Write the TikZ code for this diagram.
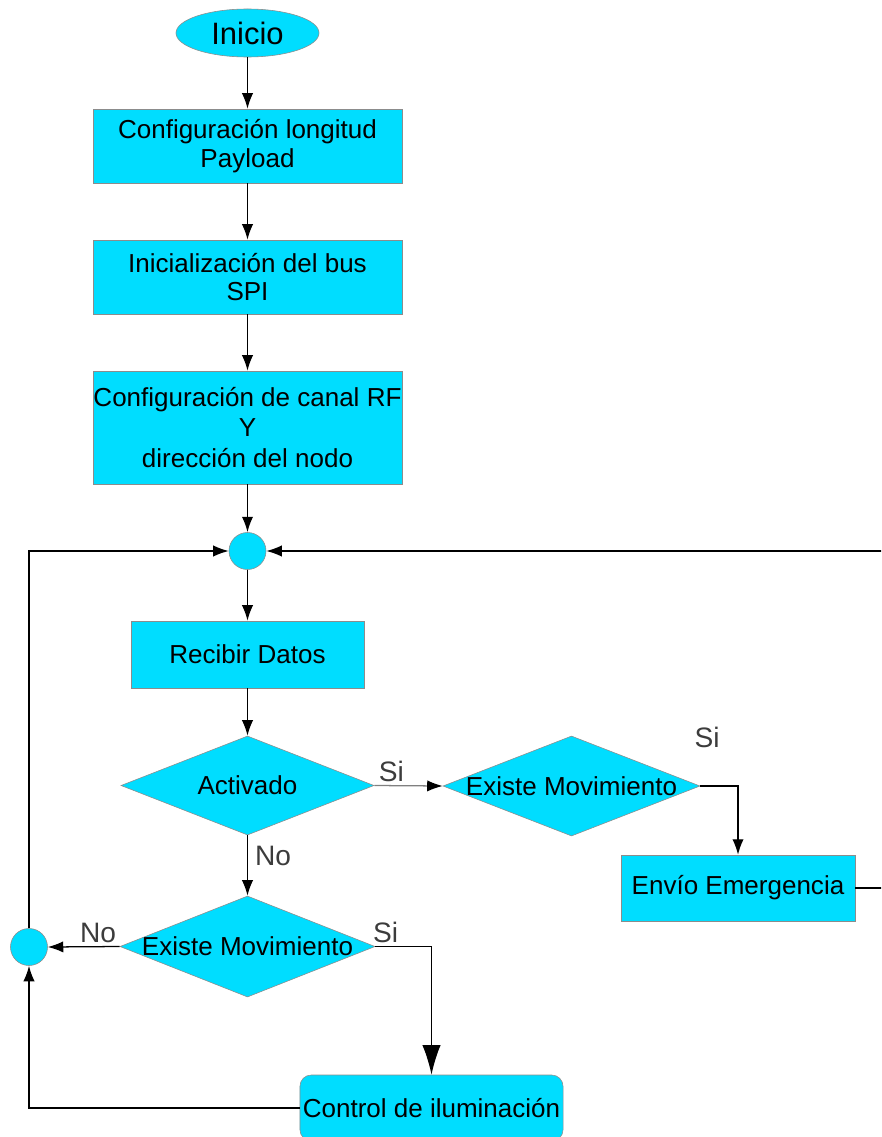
\documentclass[tikz,border=0pt]{standalone}
\usepackage{fontspec}
\setmainfont{Liberation Sans}
\usetikzlibrary{shapes.geometric,arrows.meta}

\definecolor{flowcyan}{RGB}{0,221,255}
\definecolor{flowedge}{RGB}{140,140,140}
\definecolor{labgray}{RGB}{60,60,60}

\tikzset{
	proc/.style={draw=flowedge, fill=flowcyan, rectangle, align=center, inner sep=0pt, font=\fontsize{18.5}{20.5}\selectfont},
	dec/.style={draw=flowedge, fill=flowcyan, diamond, inner sep=0pt, label={[font=\fontsize{18.5}{20.5}\selectfont]center:#1}},
	junc/.style={draw=flowedge, fill=flowcyan, circle, inner sep=0pt, minimum size=0.925cm},
	lab/.style={text=labgray, inner sep=2pt, font=\fontsize{20}{22}\selectfont},
	flow/.style={-{Latex[length=11pt,width=8pt,color=black]}, line width=0.9pt},
	bigflow/.style={-{Latex[length=21pt,width=13pt]}, line width=0.9pt}
}

\begin{document}
\begin{tikzpicture}[x=0.025cm, y=-0.025cm]
\useasboundingbox (0,0) rectangle (881,1137);
\clip (0,0) rectangle (881,1137);

\path (247.5,33) node[draw=flowedge, fill=flowcyan, ellipse, inner sep=0pt, minimum width=3.575cm, minimum height=1.2cm, font=\fontsize{22}{24}\selectfont] (start) {Inicio};
\path (247.5,146) node[proc, minimum width=7.725cm, minimum height=1.85cm] (cfg) {Configuración longitud\\Payload};
\path (247.5,277) node[proc, minimum width=7.725cm, minimum height=1.85cm] (spi) {Inicialización del bus\\SPI};
\path (247.5,427.5) node[proc, minimum width=7.725cm, minimum height=2.825cm, font=\fontsize{18.5}{21.5}\selectfont] (rf) {Configuración de canal RF\\Y\\dirección del nodo};
\path (247.5,551) node[junc] (j1) {};
\path (247.5,654.5) node[proc, minimum width=5.825cm, minimum height=1.675cm] (recv) {Recibir Datos};
\path (247.5,785.5) node[dec=Activado, minimum width=6.325cm, minimum height=2.475cm] (act) {};
\path (571.5,786) node[dec=Existe Movimiento, minimum width=6.425cm, minimum height=2.5cm] (mov1) {};
\path (738,888) node[proc, minimum width=5.85cm, minimum height=1.65cm] (alarm) {Envío Emergencia};
\path (247.5,946.5) node[dec=Existe Movimiento, minimum width=6.375cm, minimum height=2.525cm] (mov2) {};
\path (29,947) node[junc] (j2) {};
\path (431.5,1108) node[proc, rounded corners=8pt, minimum width=6.575cm, minimum height=1.65cm] (light) {Control de iluminación};
\path (707,737) node[lab] (siTop) {Si};

\draw [flow] (start) -- (cfg);
\draw [flow] (cfg) -- (spi);
\draw [flow] (spi) -- (rf);
\draw [flow] (rf) -- (j1);
\draw [flow] (j1) -- (recv);
\draw [flow] (recv) -- (act);

\draw [flow, draw=gray] (act.east) -- node[lab, above, pos=0.25] (siAct) {Si} (mov1.west);
\draw [flow] (mov1.east) -| (alarm.north);
\draw [flow] (alarm.east) -- ++(50,0) |- (j1.east);

\draw [flow] (act.south) -- node[lab, right, pos=0.35, xshift=3pt] (noAct) {No} (mov2.north);
\draw [flow] (mov2.west) -- node[lab, above, pos=0.3] (noMov) {No} (j2.east);
\draw [bigflow] (mov2.east) node[lab, above right, xshift=-4pt] (siMov) {Si} -| (light.north);
\draw [flow] (light.west) -| (j2.south);
\draw [flow] (j2.north) |- (j1.west);

\end{tikzpicture}
\end{document}
